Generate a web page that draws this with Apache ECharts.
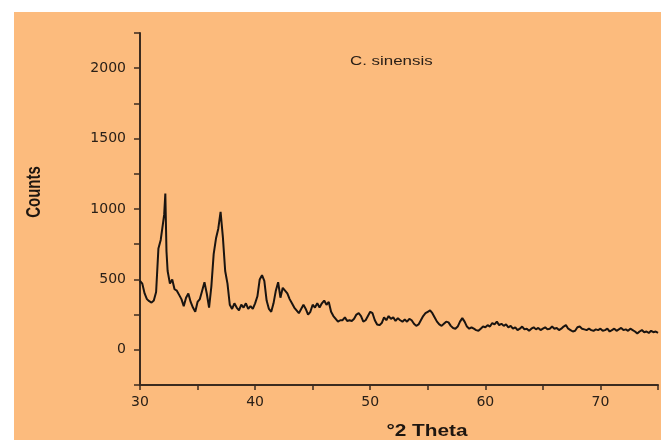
<!DOCTYPE html>
<html>
<head>
    <meta charset="utf-8">
    <title>XRD C. sinensis</title>
    <script src="https://cdn.jsdelivr.net/npm/echarts@6/dist/echarts.min.js"></script>
</head>
<style>
    html, body {
        margin: 0;
        background: #ffffff;
    }
    #main {
        position: absolute;
        left: 14px;
        top: 12px;
        width: 647px;
        height: 428px;
        background: #fcbb7d;
    }
</style>
<body>
    <div id="main"></div>
    <script type="text/javascript">
        // 2θ positions (degrees)
        var theta = [
            30.0, 30.2, 30.4, 30.6, 30.8, 31.0, 31.2, 31.4, 31.6, 31.8,
            32.0, 32.1, 32.2, 32.3, 32.4, 32.6, 32.8, 33.0, 33.2, 33.4,
            33.6, 33.8, 34.0, 34.2, 34.4, 34.6, 34.8, 35.0, 35.2, 35.4,
            35.6, 35.8, 36.0, 36.2, 36.4, 36.6, 36.8, 37.0, 37.2, 37.4,
            37.6, 37.8, 38.0, 38.2, 38.4, 38.6, 38.8, 39.0, 39.2, 39.4,
            39.6, 39.8, 40.0, 40.2, 40.4, 40.6, 40.8, 41.0, 41.2, 41.4,
            41.6, 41.8, 42.0, 42.2, 42.4, 42.6, 42.8, 43.0, 43.2, 43.4,
            43.6, 43.8, 44.0, 44.2, 44.4, 44.6, 44.8, 45.0, 45.2, 45.4,
            45.6, 45.8, 46.0, 46.2, 46.4, 46.6, 46.8, 47.0, 47.2, 47.4,
            47.6, 47.8, 48.0, 48.2, 48.4, 48.6, 48.8, 49.0, 49.2, 49.4,
            49.6, 49.8, 50.0, 50.2, 50.4, 50.6, 50.8, 51.0, 51.2, 51.4,
            51.6, 51.8, 52.0, 52.2, 52.4, 52.6, 52.8, 53.0, 53.2, 53.4,
            53.6, 53.8, 54.0, 54.2, 54.4, 54.6, 54.8, 55.0, 55.2, 55.4,
            55.6, 55.8, 56.0, 56.2, 56.4, 56.6, 56.8, 57.0, 57.2, 57.4,
            57.6, 57.8, 58.0, 58.2, 58.4, 58.6, 58.8, 59.0, 59.2, 59.4,
            59.6, 59.8, 60.0, 60.2, 60.4, 60.6, 60.8, 61.0, 61.2, 61.4,
            61.6, 61.8, 62.0, 62.2, 62.4, 62.6, 62.8, 63.0, 63.2, 63.4,
            63.6, 63.8, 64.0, 64.2, 64.4, 64.6, 64.8, 65.0, 65.2, 65.4,
            65.6, 65.8, 66.0, 66.2, 66.4, 66.6, 66.8, 67.0, 67.2, 67.4,
            67.6, 67.8, 68.0, 68.2, 68.4, 68.6, 68.8, 69.0, 69.2, 69.4,
            69.6, 69.8, 70.0, 70.2, 70.4, 70.6, 70.8, 71.0, 71.2, 71.4,
            71.6, 71.8, 72.0, 72.2, 72.4, 72.6, 72.8, 73.0, 73.2, 73.4,
            73.6, 73.8, 74.0, 74.2, 74.4, 74.6, 74.8, 75.0
        ];
        // intensity (counts)
        var counts = [
            490, 470, 400, 360, 345, 335, 350, 410, 720, 780,
            900, 960, 1110, 700, 560, 470, 500, 430, 420, 390,
            360, 310, 370, 400, 340, 300, 270, 340, 360, 420,
            480, 400, 300, 450, 680, 790, 860, 980, 800, 560,
            470, 320, 290, 330, 300, 280, 320, 300, 330, 290,
            310, 290, 330, 380, 500, 530, 490, 350, 290, 270,
            330, 420, 480, 370, 440, 420, 400, 360, 330, 300,
            280, 260, 290, 320, 290, 250, 270, 320, 300, 330,
            300, 330, 350, 320, 340, 270, 240, 220, 200, 210,
            210, 230, 205, 210, 205, 220, 250, 260, 240, 200,
            210, 240, 270, 260, 210, 180, 175, 190, 230, 210,
            240, 220, 230, 205, 225, 210, 200, 215, 200, 220,
            210, 185, 170, 180, 210, 240, 260, 270, 280, 260,
            230, 200, 180, 170, 185, 200, 195, 170, 155, 150,
            165, 200, 225, 200, 165, 150, 160, 150, 140, 135,
            150, 165, 160, 175, 165, 190, 180, 200, 175, 185,
            170, 180, 160, 170, 150, 160, 140, 150, 165, 145,
            150, 135, 150, 160, 145, 155, 140, 150, 160, 145,
            150, 165, 150, 155, 140, 150, 165, 175, 150, 140,
            130, 135, 160, 165, 150, 145, 140, 150, 140, 135,
            145, 140, 150, 135, 140, 150, 130, 140, 150, 135,
            145, 155, 140, 145, 135, 150, 140, 130, 115, 130,
            140, 125, 130, 120, 135, 125, 130, 120
        ];
        var yTicks = [0, 500, 1000, 1500, 2000];
        var xTicks = [30, 40, 50, 60, 70];

        var data = [];
        for (var i = 0; i < theta.length; i++) {
            data.push([theta[i], counts[i]]);
        }

        var axisColor = '#3b2b1f';
        var labelColor = '#2a2018';
        var option = {
            animation: false,
            backgroundColor: 'transparent',
            grid: { left: 126, right: 1, top: 21, bottom: 55 },
            xAxis: {
                type: 'value',
                min: 30, max: 75, interval: 5,
                axisLine: { onZero: false, lineStyle: { color: axisColor, width: 2 } },
                axisTick: { length: 5, lineStyle: { color: axisColor, width: 1.5 } },
                splitLine: { show: false },
                axisLabel: {
                    margin: 10,
                    color: labelColor,
                    fontFamily: 'DejaVu Sans',
                    fontSize: 14,
                    formatter: function (v) {
                        return xTicks.indexOf(v) >= 0 ? String(v) : '';
                    }
                }
            },
            yAxis: {
                type: 'value',
                min: -250, max: 2250, interval: 250,
                axisLine: { show: true, lineStyle: { color: axisColor, width: 2 } },
                axisTick: { show: true, length: 6, lineStyle: { color: axisColor, width: 1.5 } },
                splitLine: { show: false },
                axisLabel: {
                    margin: 14,
                    color: labelColor,
                    fontFamily: 'DejaVu Sans',
                    fontSize: 14,
                    formatter: function (v) {
                        return yTicks.indexOf(v) >= 0 ? String(v) : '';
                    }
                }
            },
            graphic: [
                {
                    type: 'text', x: 336, y: 49, scaleX: 1.3,
                    style: {
                        text: 'C. sinensis', fill: '#2a2018',
                        font: '13px "Liberation Sans", Arial, sans-serif',
                        textAlign: 'left', textVerticalAlign: 'middle'
                    }
                },
                {
                    type: 'text', x: 413, y: 420, scaleX: 1.3,
                    style: {
                        text: '°2 Theta', fill: '#1e1610',
                        font: 'bold 16px "Liberation Sans", Arial, sans-serif',
                        textAlign: 'center', textVerticalAlign: 'middle'
                    }
                },
                {
                    type: 'text', x: 21, y: 180, rotation: Math.PI / 2, scaleY: 1.3,
                    style: {
                        text: 'Counts', fill: '#1e1610',
                        font: 'bold 15px "Liberation Sans", Arial, sans-serif',
                        textAlign: 'center', textVerticalAlign: 'middle'
                    }
                }
            ],
            series: [{
                type: 'line',
                data: data,
                showSymbol: false,
                lineStyle: { color: '#1a1410', width: 2 }
            }]
        };
        var myChart = echarts.init(document.getElementById('main'));
        myChart.setOption(option);
    </script>
</body>
</html>
